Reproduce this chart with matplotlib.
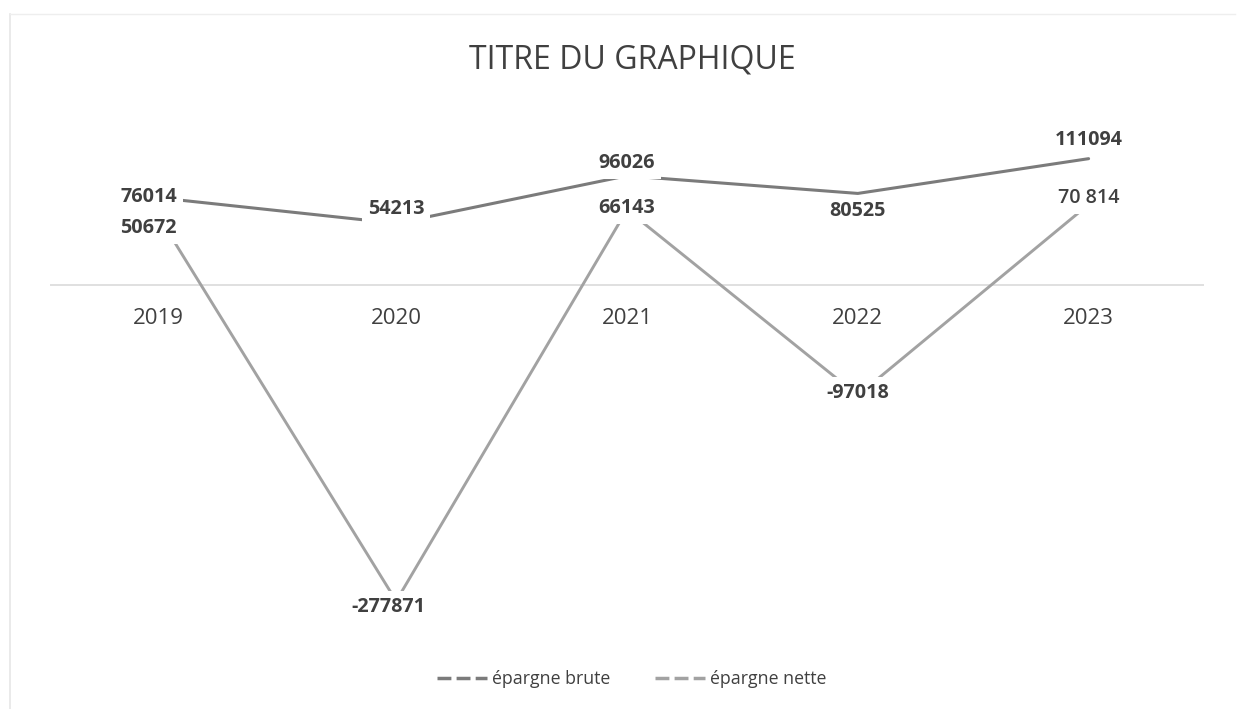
import matplotlib
matplotlib.use("Agg")
import matplotlib.pyplot as plt
from matplotlib.lines import Line2D

plt.rcParams['font.family'] = ['Open Sans', 'DejaVu Sans']

years = ["2019", "2020", "2021", "2022", "2023"]
epargne_brute = [76014, 54213, 96026, 80525, 111094]
epargne_nette = [50672, -277871, 66143, -97018, 70814]
labels_brute = ["76014", "54213", "96026", "80525", "111094"]
labels_nette = ["50672", "-277871", "66143", "-97018", "70 814"]

# label offsets in pixels (dx, dy up)
off_brute = [(-17, 2), (0, 14), (0, 13), (0, -18), (0, 19)]
off_nette = [(-17, -1), (-8, -6), (0, 2), (0, 2), (0, 6)]

W, H = 1245, 709
fig = plt.figure(figsize=(W / 100, H / 100), dpi=100)
fig.patch.set_facecolor('white')

ax_left, ax_right = 50, 1204
ax_top, ax_bot = 110, 640
ax = fig.add_axes([ax_left / W, 1 - ax_bot / H, (ax_right - ax_left) / W, (ax_bot - ax_top) / H])
ax.set_facecolor('none')

zero_px = 285
scale = 316 / 277871.0
ax.set_ylim(-(ax_bot - zero_px) / scale, (zero_px - ax_top) / scale)
ax.set_xlim(-0.5, 4.5)

x = list(range(len(years)))
c_brute = '#7b7b7b'
c_nette = '#a2a2a2'

ax.axhline(0, color='#dadada', lw=1.2, zorder=1, xmin=-0.01)
ax.plot(x, epargne_nette, color=c_nette, lw=2.1, zorder=2, solid_capstyle='round')
ax.plot(x, epargne_brute, color=c_brute, lw=2.2, zorder=3, solid_capstyle='round')

for i in x:
    dx, dy = off_brute[i]
    ax.annotate(labels_brute[i], (i, epargne_brute[i]), xytext=(dx * 0.72, dy * 0.72),
                textcoords='offset points', ha='center', va='center', fontsize=14.2,
                fontweight='bold', color='#404040', zorder=5,
                bbox=dict(boxstyle='square,pad=0.3', fc='white', ec='none'))
    dx, dy = off_nette[i]
    ax.annotate(labels_nette[i], (i, epargne_nette[i]), xytext=(dx * 0.72, dy * 0.72),
                textcoords='offset points', ha='center', va='center', fontsize=14.2,
                fontweight='bold' if i < 4 else 'semibold', color='#404040', zorder=5,
                bbox=dict(boxstyle='square,pad=0.3', fc='white', ec='none'))

for i in x:
    ax.annotate(years[i], (i, 0), xytext=(-5 if i == 0 else 0, -33 * 0.72),
                textcoords='offset points',
                ha='center', va='center', fontsize=16, color='#404040')

for s in ax.spines.values():
    s.set_visible(False)
ax.set_xticks([])
ax.set_yticks([])

fig.text(632 / W, 1 - 60 / H, "TITRE DU GRAPHIQUE", ha='center', va='center',
         fontsize=23, color='#404040')

handles = [Line2D([], [], color=c_brute, lw=2.5, dashes=(4, 1.5)),
           Line2D([], [], color=c_nette, lw=2.5, dashes=(4, 1.5))]
fig.legend(handles, ["épargne brute", "épargne nette"], loc='center',
           bbox_to_anchor=(632 / W, 1 - 679 / H), ncol=2, frameon=False,
           fontsize=12.8, handlelength=2.8, columnspacing=2.5, handletextpad=0.3,
           labelcolor='#404040')

# faint chart border (left and top)
fig.add_artist(Line2D([10 / W, 10 / W], [0, 1 - 14 / H], transform=fig.transFigure,
                      color='#e6e6e6', lw=1.2))
fig.add_artist(Line2D([10 / W, 1235 / W], [1 - 14 / H, 1 - 14 / H], transform=fig.transFigure,
                      color='#eeeeee', lw=1.0))

fig.savefig("out.png", dpi=100, facecolor='white')
